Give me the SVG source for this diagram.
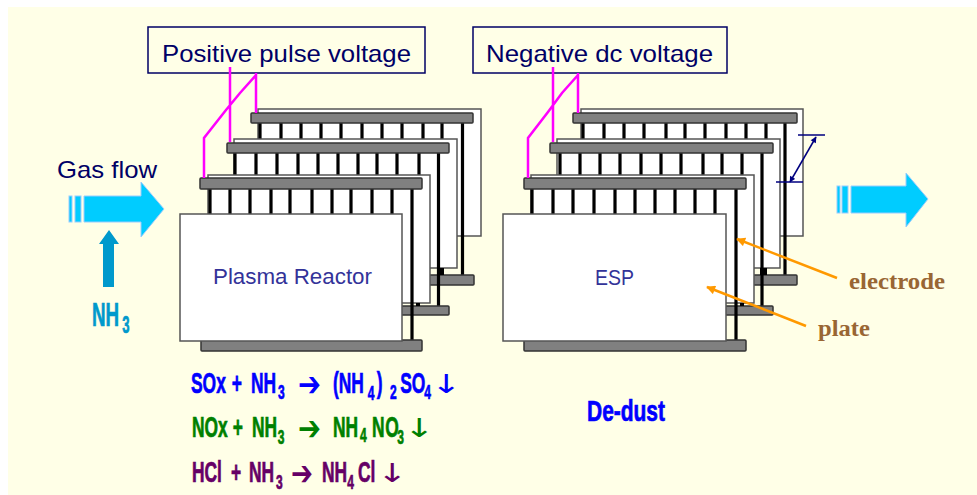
<svg xmlns="http://www.w3.org/2000/svg" width="977" height="495" viewBox="0 0 977 495">
<style>
.plate{fill:#fff;stroke:#555;stroke-width:1.5}
.bar{fill:#808080;stroke:#333;stroke-width:1.5}
.el{fill:none;stroke:#000;stroke-width:3.2}
.lbl{fill:none;stroke:#000066;stroke-width:1.5}
.t{font-family:"Liberation Sans",Arial,sans-serif;font-size:24px;fill:#000066}
.r{font-family:"Liberation Sans",Arial,sans-serif;font-size:22px;fill:#333399}
.c{font-family:"Liberation Sans",Arial,sans-serif;font-weight:bold;font-size:29px;stroke-width:.7}
.c tspan.s{font-size:20px}
.c.nh{font-size:33px}
.c tspan.nh3{font-size:23px}
.a{font-family:"DejaVu Sans",sans-serif;font-weight:bold;font-size:34px;stroke-width:0}
.d{font-family:"DejaVu Sans",sans-serif;font-size:26px;stroke-width:0}
.b{fill:#0000ff;stroke:#0000ff}.g{fill:#008000;stroke:#008000}.p{fill:#660066;stroke:#660066}.n{fill:#0099cc;stroke:#0099cc}
.o{font-family:"Liberation Serif",serif;font-weight:bold;font-size:23px;fill:#996633}
.flow{fill:#00ccff;stroke:#99ccff;stroke-width:1}
.mg{fill:none;stroke:#ff00ff;stroke-width:2.5}
.or{fill:none;stroke:#ff9900;stroke-width:2.5}
.dim{fill:none;stroke:#000080;stroke-width:1.5}
</style>
<defs>
<marker id="oh" viewBox="0 0 10 10" refX="9" refY="5" markerWidth="11" markerHeight="9" markerUnits="userSpaceOnUse" orient="auto"><path d="M0 0L10 5L0 10Z" fill="#ff9900"/></marker>
<marker id="dh" viewBox="0 0 10 10" refX="9" refY="5" markerWidth="7" markerHeight="6" markerUnits="userSpaceOnUse" orient="auto-start-reverse"><path d="M0 0L10 5L0 10Z" fill="#000080"/></marker>
</defs>
<rect x="8" y="7" width="969" height="488" fill="#ffffe7"/>

<g id="gas-in">
<path class="flow" d="M84 196H141V182L164 209L141 237V222H84Z"/>
<rect class="flow" x="75" y="196" width="6" height="26"/>
<rect class="flow" x="69" y="196" width="3" height="26"/>
<text class="t" x="57" y="178" textLength="100" lengthAdjust="spacingAndGlyphs">Gas flow</text>
</g>
<g id="nh3">
<path class="n" style="stroke:none" d="M103 287V244H99L109 230L119 244H114V287Z"/>
<text class="c n nh" transform="translate(92 326) scale(.57 1)">NH<tspan class="nh3" x="53" y="7">3</tspan></text>
</g>
<g id="gas-out">
<path class="flow" d="M851 186H906V173L928 199L906 227V213H851Z"/>
<rect class="flow" x="842" y="186" width="6" height="27"/>
<rect class="flow" x="837" y="186" width="3" height="27"/>
</g>

<g id="plasma-reactor">
<rect class="plate" x="258" y="109" width="223" height="127"/>
<path class="el" d="M260 123V139M281 123V139M301 123V139M321 123V139M341 123V139M362 123V139M382 123V139M402 123V139M423 123V139M442 123V139M462.500 123V275"/>
<rect class="bar" x="251" y="113" width="222" height="10" rx="1"/>
<rect class="bar" x="251" y="275" width="223" height="10" rx="1"/>
<rect class="plate" x="234" y="139" width="223" height="129"/>
<path class="el" d="M235 153V175M256 153V175M277 153V175M298 153V175M318 153V175M338 153V175M358 153V175M377 153V175M397 153V175M419 153V175M438.500 153V306"/>
<path d="M438 268h6v7h-6z"/>
<rect class="bar" x="227" y="143" width="222" height="10" rx="1"/>
<rect class="bar" x="227" y="306" width="222" height="9" rx="1"/>
<rect class="plate" x="208" y="175" width="222" height="128"/>
<path class="el" d="M210 189V214M230 189V214M250 189V214M271 189V214M290 189V214M312 189V214M332 189V214M351 189V214M372 189V214M392 189V214M412 189V340"/>
<path d="M416 303h4v3h-4z"/>
<rect class="bar" x="200" y="178" width="222" height="11" rx="1"/>
<rect class="bar" x="201" y="340" width="221" height="11" rx="1"/>
<rect class="plate" x="180" y="214" width="222" height="127"/>
<text class="r" x="213" y="284" textLength="159" lengthAdjust="spacingAndGlyphs">Plasma Reactor</text>
</g>

<g id="esp">
<rect class="plate" x="581" y="109" width="222" height="127"/>
<path class="el" d="M583 123V139M604 123V139M624 123V139M644 123V139M666 123V139M685 123V139M705 123V139M726 123V139M746 123V139M766 123V139M785 123V275"/>
<rect class="bar" x="573" y="113" width="224" height="10" rx="1"/>
<rect class="bar" x="574" y="275" width="223" height="10" rx="1"/>
<rect class="plate" x="557" y="139" width="223" height="129"/>
<path class="el" d="M560 153V175M580 153V175M600 153V175M620 153V175M641 153V175M661 153V175M681 153V175M703 153V175M722 153V175M742 153V175M762 153V306"/>
<path d="M760 268h7v7h-7z"/>
<rect class="bar" x="550" y="143" width="223" height="10" rx="1"/>
<rect class="bar" x="550" y="306" width="223" height="9" rx="1"/>
<rect class="plate" x="531" y="175" width="223" height="128"/>
<path class="el" d="M532 189V214M553 189V214M573 189V214M594 189V214M615 189V214M635 189V214M655 189V214M675 189V214M695 189V214M715 189V214M736 189V340"/>
<path d="M740 303h4v3h-4z"/>
<rect class="bar" x="524" y="178" width="222" height="11" rx="1"/>
<rect class="bar" x="524" y="340" width="222" height="11" rx="1"/>
<rect class="plate" x="503" y="214" width="223" height="127"/>
<text class="r" x="595" y="285" textLength="39" lengthAdjust="spacingAndGlyphs">ESP</text>
</g>

<g id="positive-voltage">
<rect class="lbl" x="148" y="27" width="277" height="46"/>
<text class="t" x="162" y="62" textLength="249" lengthAdjust="spacingAndGlyphs">Positive pulse voltage</text>
</g>
<g id="negative-voltage">
<rect class="lbl" x="473" y="27" width="254" height="46"/>
<text class="t" x="486" y="62" textLength="227" lengthAdjust="spacingAndGlyphs">Negative dc voltage</text>
</g>

<g id="connectors">
<path class="mg" d="M230 67V142M256 73V113M256 75L240 93L226 110L204 138V178"/>
<path class="mg" d="M553 67V142M578 73V113M578 75L562 93L548 112L528 138V178"/>
<path class="dim" d="M798 135H825M776 182H803"/>
<path class="dim" d="M816 137L790 182" marker-start="url(#dh)" marker-end="url(#dh)"/>
<path class="or" d="M837 278L737 239" marker-end="url(#oh)"/>
<path class="or" d="M806 326L707 287" marker-end="url(#oh)"/>
</g>

<g id="electrode-label"><text class="o" x="849" y="289" textLength="96" lengthAdjust="spacingAndGlyphs">electrode</text></g>
<g id="plate-label"><text class="o" x="818" y="336" textLength="52" lengthAdjust="spacingAndGlyphs">plate</text></g>
<g id="de-dust"><text class="c b" x="587" y="421" textLength="78" lengthAdjust="spacingAndGlyphs">De-dust</text></g>

<g id="eq-sox">
<text class="c b" transform="translate(191 393) scale(.6 1)">SOx<tspan x="68">+</tspan><tspan x="100">NH</tspan><tspan class="s" x="145" y="6">3</tspan></text>
<text class="a b" x="298" y="396" textLength="23" lengthAdjust="spacingAndGlyphs">➔</text>
<text class="c b" transform="translate(333 393) scale(.6 1)">(NH<tspan class="s" x="58" y="7">4</tspan><tspan x="73" y="0">)</tspan><tspan class="s" x="95" y="6">2</tspan><tspan x="112" y="0">SO</tspan><tspan class="s" x="152" y="6">4</tspan></text>
<text class="d b" transform="translate(431 393) scale(1.4 1)">↓</text>
</g>
<g id="eq-nox">
<text class="c g" transform="translate(192 437) scale(.6 1)">NOx<tspan x="68">+</tspan><tspan x="100">NH</tspan><tspan class="s" x="143" y="7">3</tspan></text>
<text class="a g" x="298" y="440" textLength="23" lengthAdjust="spacingAndGlyphs">➔</text>
<text class="c g" transform="translate(333 437) scale(.6 1)">NH<tspan class="s" x="45" y="5">4</tspan><tspan x="65" y="0">N</tspan><tspan x="87">O</tspan><tspan class="s" x="107" y="7">3</tspan></text>
<text class="d g" transform="translate(404 437) scale(1.4 1)">↓</text>
</g>
<g id="eq-hcl">
<text class="c p" transform="translate(192 482) scale(.6 1)">HCl<tspan x="65">+</tspan><tspan x="95">NH</tspan><tspan class="s" x="140" y="7">3</tspan></text>
<text class="a p" x="291" y="485" textLength="22" lengthAdjust="spacingAndGlyphs">➔</text>
<text class="c p" transform="translate(322 482) scale(.6 1)">NH<tspan class="s" x="42" y="7">4</tspan><tspan x="60" y="0">Cl</tspan></text>
<text class="d p" transform="translate(377 482) scale(1.4 1)">↓</text>
</g>
</svg>
